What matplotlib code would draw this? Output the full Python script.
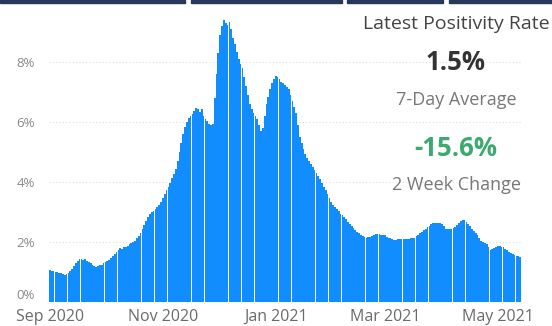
import matplotlib
matplotlib.use("Agg")
import matplotlib.pyplot as plt
from matplotlib.patches import Rectangle
import pandas as pd

# Daily 7-day average test positivity rate (%), starting 1 Sep 2020
start_date = "2020-09-01"
positivity = [
    1.06, 1.04, 1.03, 1.01, 1.00, 0.98, 0.96,
    0.92, 0.90, 0.93, 0.97, 1.03, 1.10, 1.20,
    1.30, 1.38, 1.45, 1.43, 1.40, 1.42, 1.38,
    1.35, 1.30, 1.24, 1.20, 1.17, 1.19, 1.23,
    1.25, 1.29, 1.33, 1.37, 1.40, 1.46, 1.53,
    1.60, 1.68, 1.75, 1.80, 1.78, 1.82, 1.85,
    1.88, 1.93, 1.96, 2.00, 2.05, 2.12, 2.20,
    2.30, 2.42, 2.56, 2.70, 2.82, 2.92, 3.00,
    3.05, 3.10, 3.17, 3.25, 3.35, 3.46, 3.60,
    3.72, 3.85, 3.97, 4.12, 4.28, 4.45, 4.70,
    5.00, 5.30, 5.60, 5.82, 6.00, 6.12, 6.20,
    6.28, 6.38, 6.47, 6.45, 6.35, 6.42, 6.20,
    6.10, 6.02, 5.95, 5.90, 5.92, 6.80, 7.60,
    8.30, 8.90, 9.20, 9.40, 9.30, 9.25, 9.35,
    9.10, 8.80, 8.60, 8.35, 8.10, 7.95, 7.80,
    7.50, 7.20, 6.90, 6.60, 6.45, 6.30, 6.20,
    6.10, 5.90, 5.70, 5.80, 6.20, 6.60, 6.85,
    7.10, 7.30, 7.45, 7.55, 7.50, 7.42, 7.35,
    7.30, 7.25, 7.18, 7.10, 6.90, 6.70, 6.50,
    6.30, 5.90, 5.50, 5.30, 5.10, 4.95, 4.80,
    4.70, 4.60, 4.50, 4.40, 4.30, 4.20, 4.10,
    3.98, 3.85, 3.72, 3.60, 3.47, 3.35, 3.25,
    3.16, 3.10, 3.02, 2.95, 2.90, 2.85, 2.78,
    2.68, 2.60, 2.54, 2.47, 2.40, 2.35, 2.30,
    2.25, 2.21, 2.18, 2.15, 2.16, 2.18, 2.20,
    2.23, 2.26, 2.28, 2.27, 2.25, 2.25, 2.22,
    2.18, 2.15, 2.12, 2.10, 2.08, 2.07, 2.09,
    2.10, 2.10, 2.09, 2.11, 2.10, 2.10, 2.12,
    2.13, 2.15, 2.20, 2.25, 2.30, 2.35, 2.40,
    2.45, 2.50, 2.55, 2.60, 2.63, 2.65, 2.65,
    2.64, 2.62, 2.60, 2.52, 2.45, 2.43, 2.44,
    2.45, 2.47, 2.50, 2.58, 2.65, 2.70, 2.73,
    2.72, 2.68, 2.60, 2.52, 2.45, 2.38, 2.30,
    2.25, 2.15, 2.05, 2.00, 1.97, 1.95, 1.85,
    1.75, 1.77, 1.80, 1.84, 1.88, 1.87, 1.85,
    1.82, 1.78, 1.72, 1.68, 1.64, 1.60, 1.57,
    1.55, 1.52, 1.50,
]
y_ticks = [0, 2, 4, 6, 8]
x_tick_dates = ["2020-09-01", "2020-11-01", "2021-01-01", "2021-03-01", "2021-05-01"]
x_tick_labels = ["Sep 2020", "Nov 2020", "Jan 2021", "Mar 2021", "May 2021"]

card_title = "Latest Positivity Rate"
latest_value = "1.5%"
latest_caption = "7-Day Average"
change_value = "-15.6%"
change_caption = "2 Week Change"

dates = pd.date_range(start_date, periods=len(positivity), freq="D")

plt.rcParams["font.family"] = ["Open Sans", "DejaVu Sans"]

W, H = 552, 326
fig = plt.figure(figsize=(W / 100, H / 100), dpi=100)
fig.patch.set_facecolor("white")

# axes placed in pixel terms
left_px, right_px, bottom_px, top_px = 49, 521, 302, 17
ax = fig.add_axes([left_px / W, 1 - bottom_px / H,
                   (right_px - left_px) / W, (bottom_px - top_px) / H])

ax.bar(dates, positivity, width=0.94, color="#118DFF", edgecolor="none",
       align="center", zorder=2)

ax.set_xlim(dates[0] - pd.Timedelta(hours=12), dates[-1] + pd.Timedelta(hours=12))
ax.set_ylim(0, 9.5)

ax.set_yticks(y_ticks)
ax.set_yticklabels([f"{v}%" for v in y_ticks], color="#8a8a8a", fontsize=9.5)
ax.set_xticks(pd.to_datetime(x_tick_dates))
ax.set_xticklabels(x_tick_labels, color="#6a6a6a", fontsize=11.5)
ax.tick_params(axis="both", length=0)
ax.tick_params(axis="y", pad=10)
ax.tick_params(axis="x", pad=5)
for lbl in ax.get_yticklabels()[:1]:
    lbl.set_va("bottom")

for v in y_ticks[1:]:
    ax.axhline(v, color="#dedede", linewidth=0.8, linestyle=(0, (1, 2)), zorder=1)

for s in ax.spines.values():
    s.set_visible(False)
ax.set_facecolor("none")

# thin navy tab strip along the top edge
for x0, x1 in [(0, 185), (191, 342), (347, 443), (449, 552)]:
    fig.patches.append(Rectangle((x0 / W, 1 - 3 / H), (x1 - x0) / W, 3 / H,
                                 transform=fig.transFigure, color="#26375a",
                                 zorder=5))

# summary card text
cx = 456 / W
def fy(px):
    return 1 - px / H

fig.text(cx, fy(24), card_title, ha="center", va="center", fontsize=14,
         color="#444444")
fig.text(cx, fy(63), latest_value, ha="center", va="center", fontsize=18.5,
         fontweight="bold", color="#333333")
fig.text(cx, fy(100), latest_caption, ha="center", va="center", fontsize=13,
         color="#777777")
fig.text(cx, fy(148), change_value, ha="center", va="center", fontsize=18.5,
         fontweight="bold", color="#3aaa6e")
fig.text(cx, fy(185), change_caption, ha="center", va="center", fontsize=13,
         color="#777777")

fig.savefig("out.png", dpi=100, facecolor="white")
